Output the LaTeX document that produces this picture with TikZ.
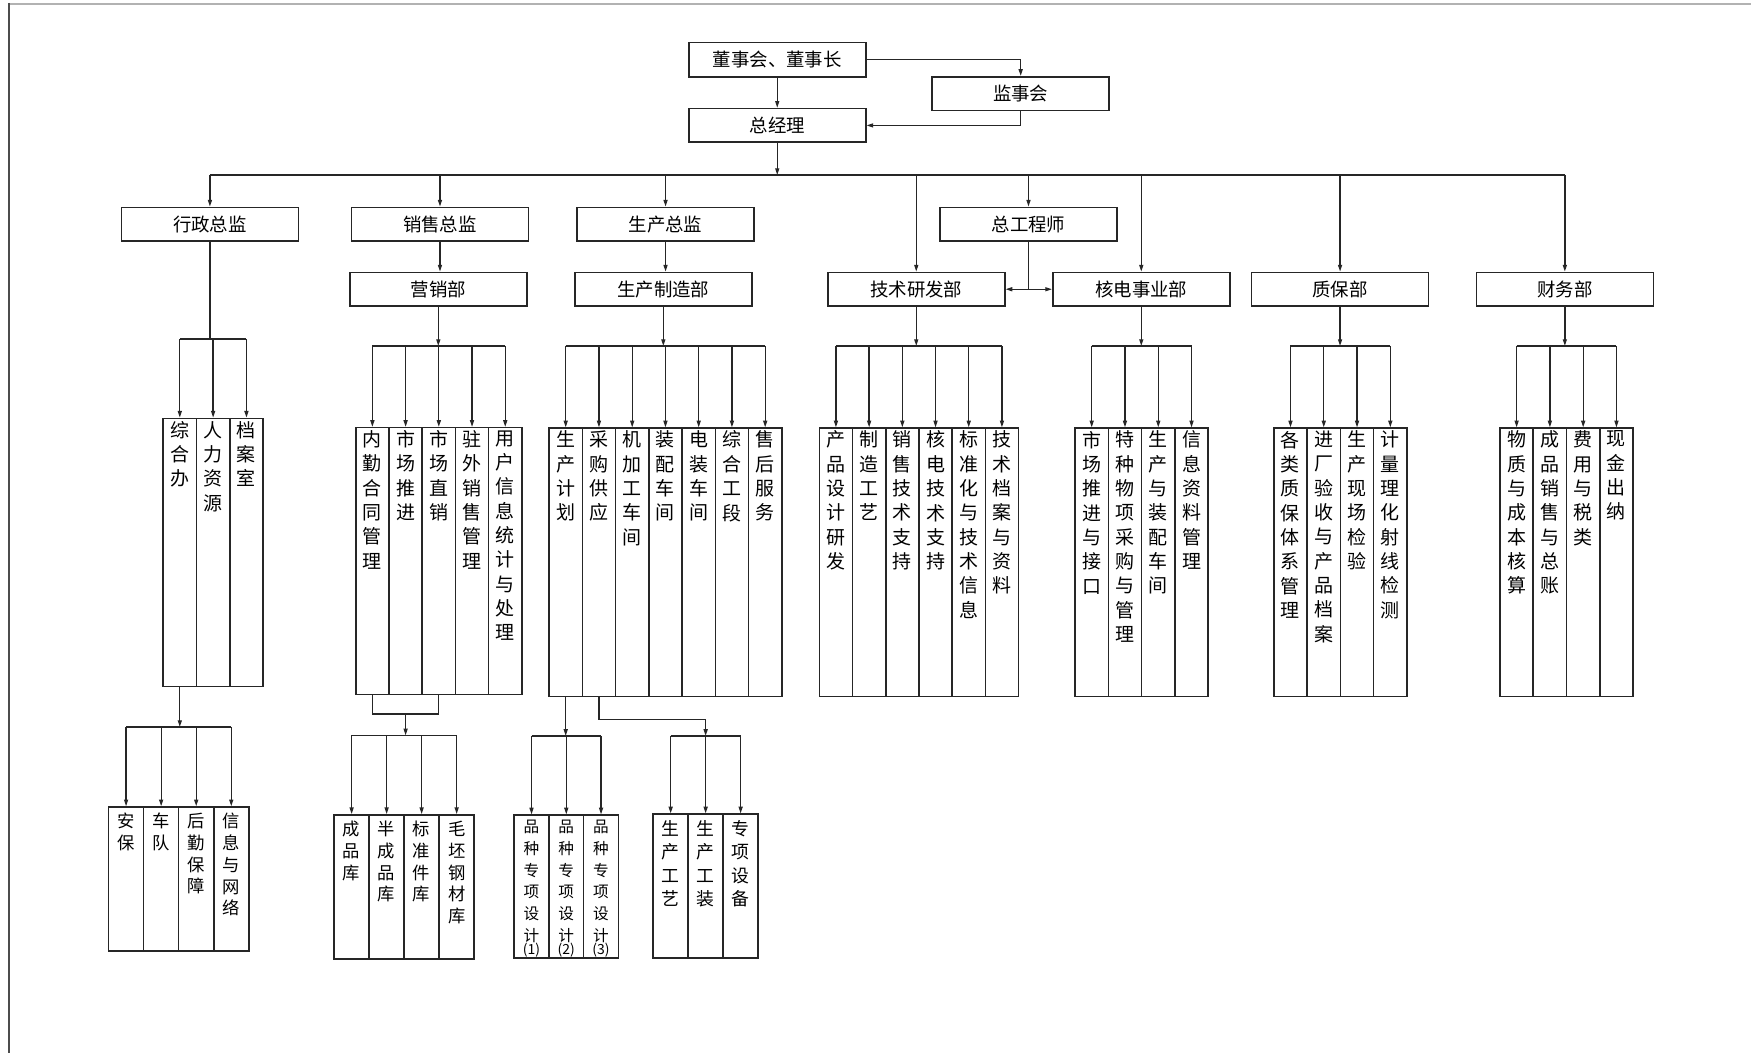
\documentclass[tikz,border=0pt]{standalone}
\usepackage{fontspec}
\setmainfont{Noto Sans CJK SC}
\usetikzlibrary{arrows.meta,calc}
\makeatletter
\let\vt@end\relax
\newcommand\vtext[1]{\vt@first#1\vt@end}
\def\vt@first#1{#1\vt@loop}
\def\vt@loop#1{\ifx\vt@end#1\else\\#1\expandafter\vt@loop\fi}
\makeatother
\newcommand\hfont{\fontsize{16.5}{18}\selectfont}
\newcommand\ctfont{\fontsize{17}{21.8}\selectfont}
\newcommand\ltfont{\fontsize{15.5}{19.5}\selectfont}
\newcommand\ptfont{\fontsize{14}{19.4}\selectfont}
\newcommand\pbfont{\fontsize{16}{21}\selectfont}
\tikzset{
  conn/.style={line width=1.15pt, draw=black!85},
  arr/.style={conn, -{Triangle[length=6pt,width=3.6pt]}},
  hbox/.style={draw=black!85, line width=1.4pt, inner sep=0pt, font=\hfont, minimum width=158.5, minimum height=30.2},
  colbox/.style={draw=black!85, line width=1.4pt, inner sep=0pt},
  coltext/.style={font=\ctfont, align=center, inner sep=0pt, yshift=-3pt},
  lowtext/.style={font=\ltfont, align=center, inner sep=0pt, yshift=-6pt},
  patext/.style={font=\ptfont, align=center, inner sep=0pt, yshift=-5pt},
  pbtext/.style={font=\pbfont, align=center, inner sep=0pt, yshift=-6pt},
  numtext/.style={font=\fontsize{12.5}{12.5}\selectfont, anchor=south, inner sep=0pt, yshift=1.5pt},
}
% #1 prefix #2 left #3 width #4 top #5 height #6 text style #7 list
\newcommand\colgroup[7]{%
  \foreach \txt [count=\i] in {#7}{%
    \node[colbox, minimum width=#3, minimum height=#5, anchor=north west] (#1\i) at ({#2+(\i-1)*#3},#4) {};
    \node[#6, anchor=north] at (#1\i.north) {\expandafter\vtext\expandafter{\txt}};
  }%
}
% #1 prefix #2 count #3 bracket y
\newcommand\fanout[3]{%
  \draw[conn] (#11.north |- 0,#3) -- (#1#2.north |- 0,#3);
  \foreach \k in {1,...,#2}{\draw[arr] (#1\k.north |- 0,#3) -- (#1\k.north);}
}
\begin{document}
\begin{tikzpicture}[x=1pt,y=-1pt]
\useasboundingbox (0,0) rectangle (1568,943);
\draw[line width=2pt, black!30] (8,3.6) -- (1568,3.6);
\draw[line width=1.8pt, black!70] (8,2.6) -- (8,943);

% top
\node[hbox, minimum height=30.8] (dsh) at (696,53.3) {董事会、董事长};
\node[hbox, minimum height=30.4] (jsh) at (914,83.9) {监事会};
\node[hbox] (zjl) at (696,112.3) {总经理};
\draw[arr] (dsh.east) -| (jsh.north);
\draw[arr] (dsh.south) -- (zjl.north);
\draw[arr] (jsh.south) |- (zjl.east);
\coordinate (bus) at (0,156.7);
\draw[arr] (zjl.south) -- (zjl.south |- bus);

% level 1
\node[hbox] (dXZ) at (188,200.8) {行政总监};
\node[hbox] (dXS) at (394,200.8) {销售总监};
\node[hbox] (dSC) at (596,200.8) {生产总监};
\node[hbox] (dZGC) at (921,200.8) {总工程师};
% level 2
\node[hbox] (dYX) at (392.5,259) {营销部};
\node[hbox] (dSZ) at (594,259) {生产制造部};
\node[hbox] (dJS) at (820.5,259) {技术研发部};
\node[hbox] (dHD) at (1022,259) {核电事业部};
\node[hbox] (dZB) at (1200,259) {质保部};
\node[hbox] (dCW) at (1401.3,259) {财务部};

\draw[conn] (dXZ.north |- bus) -- (dCW.north |- bus);
\foreach \n in {dXZ,dXS,dSC,dJS,dZGC,dHD,dZB,dCW}{\draw[arr] (\n.north |- bus) -- (\n.north);}
\draw[arr] (dXS.south) -- (dXS.south |- dYX.north);
\draw[arr] (dSC.south) -- (dSC.south |- dSZ.north);
\coordinate (zj) at (dZGC.south |- dJS.east);
\draw[conn] (dZGC.south) -- (zj);
\draw[arr] (zj) -- (dJS.east);
\draw[arr] (zj) -- (dHD.west);

% column groups
\colgroup{cXZ}{145.4}{29.83}{374}{240}{coltext}{综合办,人力资源,档案室}
\colgroup{cYX}{317.9}{29.74}{382.3}{239}{coltext}{内勤合同管理,市场推进,市场直销,驻外销售管理,用户信息统计与处理}
\colgroup{cSZ}{491}{29.77}{382.7}{240.3}{coltext}{生产计划,采购供应,机加工车间,装配车间,电装车间,综合工段,售后服务}
\colgroup{cJS}{733}{29.73}{382.7}{240.3}{coltext}{产品设计研发,制造工艺,销售技术支持,核电技术支持,标准化与技术信息,技术档案与资料}
\colgroup{cHD}{962}{29.8}{382.7}{240.3}{coltext}{市场推进与接口,特种物项采购与管理,生产与装配车间,信息资料管理}
\colgroup{cZB}{1140}{29.8}{382.7}{240.3}{coltext}{各类质保体系管理,进厂验收与产品档案,生产现场检验,计量理化射线检测}
\colgroup{cCW}{1342.5}{29.8}{382.7}{240.3}{coltext}{物质与成本核算,成品销售与总账,费用与税类,现金出纳}

\draw[conn] (dXZ.south) -- (dXZ.south |- 0,303.6);
\fanout{cXZ}{3}{303.6}
\draw[arr] (dYX.south) -- (dYX.south |- 0,309.8);
\fanout{cYX}{5}{309.8}
\draw[arr] (dSZ.south) -- (dSZ.south |- 0,309.8);
\fanout{cSZ}{7}{309.8}
\draw[arr] (dJS.south) -- (dJS.south |- 0,309.8);
\fanout{cJS}{6}{309.8}
\draw[arr] (dHD.south) -- (dHD.south |- 0,309.8);
\fanout{cHD}{4}{309.8}
\draw[arr] (dZB.south) -- (dZB.south |- 0,309.8);
\fanout{cZB}{4}{309.8}
\draw[arr] (dCW.south) -- (dCW.south |- 0,309.8);
\fanout{cCW}{4}{309.8}

% lower groups
\colgroup{lXZ}{96.5}{31.4}{722}{129}{lowtext}{安保,车队,后勤保障,信息与网络}
\colgroup{lYX}{298.5}{31.35}{729}{129}{lowtext}{成品库,半成品库,标准件库,毛坯钢材库}
\colgroup{lPA}{459.7}{31.13}{729.3}{128}{patext}{品种专项设计,品种专项设计,品种专项设计}
\colgroup{lPB}{584.2}{31.33}{728.4}{129}{pbtext}{生产工艺,生产工装,专项设备}
\foreach \k in {1,2,3}{\node[numtext] at (lPA\k.south) {(\k)};}

\draw[arr] (cXZ1.south) -- (cXZ1.south |- 0,651);
\fanout{lXZ}{4}{651}

\draw[conn] (cYX1.south) |- (cYX3.south |- 0,639.4) -- (cYX3.south);
\coordinate (ym) at ($(cYX1.south |- 0,639.4)!0.5!(cYX3.south |- 0,639.4)$);
\draw[arr] (ym) -- (ym |- 0,658.5);
\fanout{lYX}{4}{658.5}

\draw[arr] (cSZ1.south) -- (cSZ1.south |- 0,659);
\fanout{lPA}{3}{659}
\draw[conn] (cSZ2.south) |- (lPB2.north |- 0,644.2);
\draw[arr] (lPB2.north |- 0,644.2) -- (lPB2.north |- 0,659);
\fanout{lPB}{3}{659}
\end{tikzpicture}
\end{document}
